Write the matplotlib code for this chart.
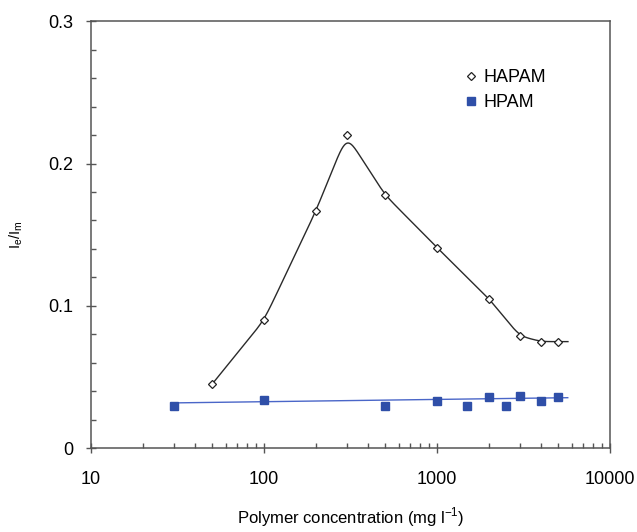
import numpy as np
import matplotlib.pyplot as plt
from matplotlib.lines import Line2D
from matplotlib.ticker import LogLocator, NullFormatter, MultipleLocator

plt.rcParams['font.family'] = ['Liberation Sans', 'DejaVu Sans']
plt.rcParams['mathtext.fontset'] = 'custom'
plt.rcParams['mathtext.rm'] = 'Liberation Sans'

# data
hapam_conc = [50, 100, 200, 300, 500, 1000, 2000, 3000, 4000, 5000]
hapam_ratio = [0.045, 0.090, 0.167, 0.220, 0.178, 0.141, 0.105, 0.079, 0.075, 0.075]

hpam_conc = [30, 100, 500, 1000, 1500, 2000, 2500, 3000, 4000, 5000]
hpam_ratio = [0.030, 0.034, 0.030, 0.033, 0.030, 0.036, 0.030, 0.037, 0.033, 0.036]

x_ticks = [10, 100, 1000, 10000]
x_tick_labels = ['10', '100', '1000', '10000']
y_ticks = [0, 0.1, 0.2, 0.3]
y_tick_labels = ['0', '0.1', '0.2', '0.3']


def smooth_curve(xs, ys, sigma=0.03, tail=0.06):
    # linear interpolation in log10(x), then a gaussian blur to round the corners
    lx = np.log10(xs)
    step = 0.002
    grid = np.arange(lx[0], lx[-1] + tail, step)
    y = np.interp(grid, lx, ys)
    half = int(4 * sigma / step)
    k = np.exp(-0.5 * (np.arange(-half, half + 1) * step / sigma) ** 2)
    k /= k.sum()
    yp = np.concatenate([2 * y[0] - y[half:0:-1], y, np.full(half, y[-1])])
    ys_s = np.convolve(yp, k, mode='valid')
    return 10 ** grid, ys_s


fig = plt.figure(figsize=(6.37, 5.32), dpi=100)
ax = fig.add_axes([0.1429, 0.157, 0.8147, 0.8035])

cx, cy = smooth_curve(hapam_conc, hapam_ratio)
ax.plot(cx, cy, color='#2a2a2a', lw=1.0)
ax.plot(hapam_conc, hapam_ratio, linestyle='none', marker='D', markersize=4.5,
        markerfacecolor='white', markeredgecolor='#222222', markeredgewidth=0.9)

# HPAM log trend line
coef = np.polyfit(np.log10(hpam_conc), hpam_ratio, 1)
lx = np.linspace(np.log10(min(hpam_conc)), np.log10(max(hpam_conc) * 1.14), 50)
ax.plot(10 ** lx, np.polyval(coef, lx) + 0.0015, color='#4a66c8', lw=1.0)
ax.plot(hpam_conc, hpam_ratio, linestyle='none', marker='s', markersize=5.5,
        color='#2f4fa8')

ax.set_xscale('log')
ax.set_xlim(10, 10000)
ax.set_ylim(0, 0.3)
ax.xaxis.set_minor_locator(LogLocator(base=10, subs=np.arange(2, 10), numticks=20))
ax.xaxis.set_minor_formatter(NullFormatter())
ax.set_xticks(x_ticks)
ax.set_xticklabels(x_tick_labels)
ax.set_yticks(y_ticks)
ax.set_yticklabels(y_tick_labels)
ax.yaxis.set_minor_locator(MultipleLocator(0.02))

for s in ax.spines.values():
    s.set_color('#555555')
    s.set_linewidth(1.1)

ax.tick_params(which='major', direction='inout', length=7, width=1, color='#555555',
               labelsize=13, top=False, right=False)
ax.tick_params(axis='x', which='major', pad=13)
ax.tick_params(axis='y', which='major', pad=9)
ax.tick_params(which='minor', direction='in', length=3.5, width=1, color='#555555',
               top=False, right=False)

ax.set_xlabel('Polymer concentration (mg l$^{-1}$)', fontsize=12, labelpad=12)
ax.set_ylabel(r'I$_\mathregular{e}$/I$_\mathregular{m}$', fontsize=10.5, labelpad=17)

handles = [
    Line2D([], [], linestyle='none', marker='D', markersize=4.5, markerfacecolor='white',
           markeredgecolor='#222222', markeredgewidth=0.9),
    Line2D([], [], linestyle='none', marker='s', markersize=5.5, color='#2f4fa8'),
]
ax.legend(handles, ['HAPAM', 'HPAM'], loc='upper left', bbox_to_anchor=(0.69, 0.925),
          frameon=False, fontsize=13, handlelength=0.6, handletextpad=0.4,
          labelspacing=0.45)

fig.savefig('out.png', dpi=100)
